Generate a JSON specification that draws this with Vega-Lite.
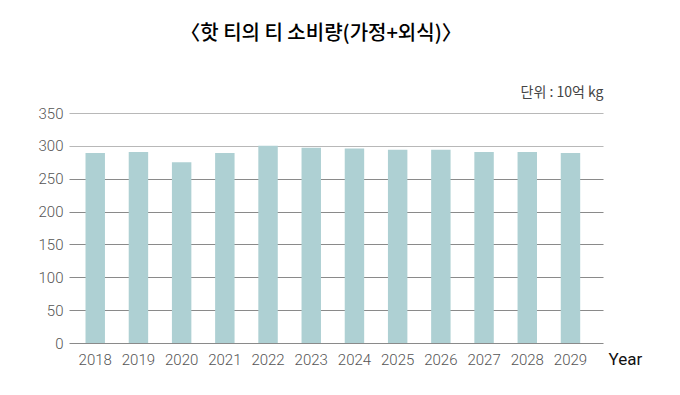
{
  "$schema": "https://vega.github.io/schema/vega-lite/v6.json",
  "width": 534,
  "height": 230,
  "autosize": {"type": "none"},
  "padding": {"left": 69, "top": 113, "right": 77, "bottom": 52},
  "background": "white",
  "title": {
    "text": "〈핫 티의 티 소비량(가정+외식)〉",
    "font": "Noto Sans CJK KR",
    "fontSize": 20,
    "fontWeight": 500,
    "color": "#000000",
    "anchor": "middle",
    "frame": "group",
    "dx": -15,
    "offset": 41
  },
  "data": {
    "values": [
      {"year": "2018", "value": 289},
      {"year": "2019", "value": 290.5},
      {"year": "2020", "value": 275},
      {"year": "2021", "value": 289},
      {"year": "2022", "value": 300},
      {"year": "2023", "value": 297},
      {"year": "2024", "value": 296},
      {"year": "2025", "value": 294},
      {"year": "2026", "value": 294},
      {"year": "2027", "value": 290.5},
      {"year": "2028", "value": 290.5},
      {"year": "2029", "value": 289}
    ]
  },
  "mark": {"type": "bar", "color": "#aed0d3"},
  "encoding": {
    "x": {
      "field": "year",
      "type": "ordinal",
      "scale": {"paddingInner": 0.55, "paddingOuter": 0.455, "align": 0.42},
      "axis": {
        "title": "Year",
        "titleX": 539,
        "titleY": 16,
        "titleAlign": "left",
        "titleBaseline": "middle",
        "titleAnchor": null,
        "titleFont": "Roboto",
        "titleFontSize": 17,
        "titleFontWeight": "normal",
        "titleColor": "#111111",
        "labelAngle": 0,
        "labelFont": "Roboto",
        "labelFontWeight": 300,
        "labelFontSize": 15,
        "labelColor": "#555555",
        "labelBaseline": "middle",
        "labelPadding": 16,
        "ticks": false,
        "domain": false
      }
    },
    "y": {
      "field": "value",
      "type": "quantitative",
      "scale": {"domain": [0, 350], "nice": false},
      "axis": {
        "values": [0, 50, 100, 150, 200, 250, 300, 350],
        "title": "단위 : 10억 kg",
        "titleAngle": 0,
        "titleX": 534,
        "titleY": -21,
        "titleAlign": "right",
        "titleBaseline": "middle",
        "titleAnchor": null,
        "titleFont": "Noto Sans CJK KR",
        "titleFontSize": 14,
        "titleFontWeight": "normal",
        "titleColor": "#444444",
        "labelFont": "Roboto",
        "labelFontWeight": 300,
        "labelFontSize": 15,
        "labelColor": "#555555",
        "labelPadding": 6,
        "ticks": false,
        "domain": false,
        "grid": true,
        "gridColor": {"condition": {"test": "datum.value >= 300", "value": "#b8b8b8"}, "value": "#8a8a8a"},
        "gridWidth": 1.2
      }
    }
  },
  "config": {"view": {"stroke": null}}
}
